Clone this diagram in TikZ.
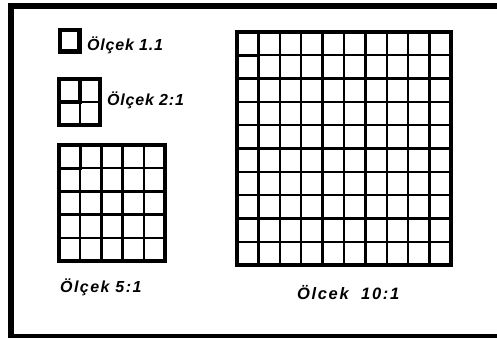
\documentclass[tikz,border=0pt]{standalone}
\usepackage{fontspec}
\setmainfont{Liberation Sans}
\begin{document}
\begin{tikzpicture}[x=1pt,y=-1pt,
  framebar/.style={fill=black},
  outerbox/.style={line width=4.4pt},
  gridline/.style={line width=2.3pt},
  firstcell/.style={line width=3.4pt},
  lbl/.style={anchor=west,inner sep=0pt,font=\fontsize{16}{16}\selectfont\bfseries\itshape\addfontfeature{LetterSpace=5}}]
\useasboundingbox (0,0) rectangle (497,338);
% frame
\fill[framebar] (8,3) rectangle (497,8.5);
\fill[framebar] (8,3) rectangle (13.5,338);
\fill[framebar] (8,333.5) rectangle (497,338);
% scale 1:1
\draw[outerbox] (60,30) rectangle (79.5,51.5);
% scale 2:1
\foreach \i in {1} {
  \draw[gridline] ({59+\i*21},79) -- ({59+\i*21},125);
  \draw[gridline] (59,{79+\i*23}) -- (100,{79+\i*23});
}
\draw[firstcell] (59,79) rectangle (80,102);
\draw[outerbox] (59,79) rectangle (100,125);
% scale 5:1
\foreach \i in {1,...,4} {
  \draw[gridline] ({59+\i*21.2},145) -- ({59+\i*21.2},261);
  \draw[gridline] (59,{145+\i*23.2}) -- (165,{145+\i*23.2});
}
\draw[firstcell] (59,145) rectangle (80.2,168.2);
\draw[outerbox] (59,145) rectangle (165,261);
% scale 10:1
\foreach \i in {1,...,9} {
  \draw[gridline] ({237+\i*21.4},32) -- ({237+\i*21.4},265);
  \draw[gridline] (237,{32+\i*23.3}) -- (451,{32+\i*23.3});
}
\draw[firstcell] (237,32) rectangle (258.4,55.3);
\draw[outerbox] (237,32) rectangle (451,265);
% labels
\node[lbl] (l1) at (87,45) {Ölçek 1.1};
\node[lbl] (l2) at (107,100) {Ölçek 2:1};
\node[lbl,font=\fontsize{16}{16}\selectfont\bfseries\itshape\addfontfeature{LetterSpace=9}] (l5) at (60,287) {Ölçek\ 5:1};
\node[lbl,font=\fontsize{16.5}{16.5}\selectfont\bfseries\itshape\addfontfeature{LetterSpace=10}] (l10) at (297,293) {Ölcek\ \ 10:1};
\end{tikzpicture}
\end{document}
